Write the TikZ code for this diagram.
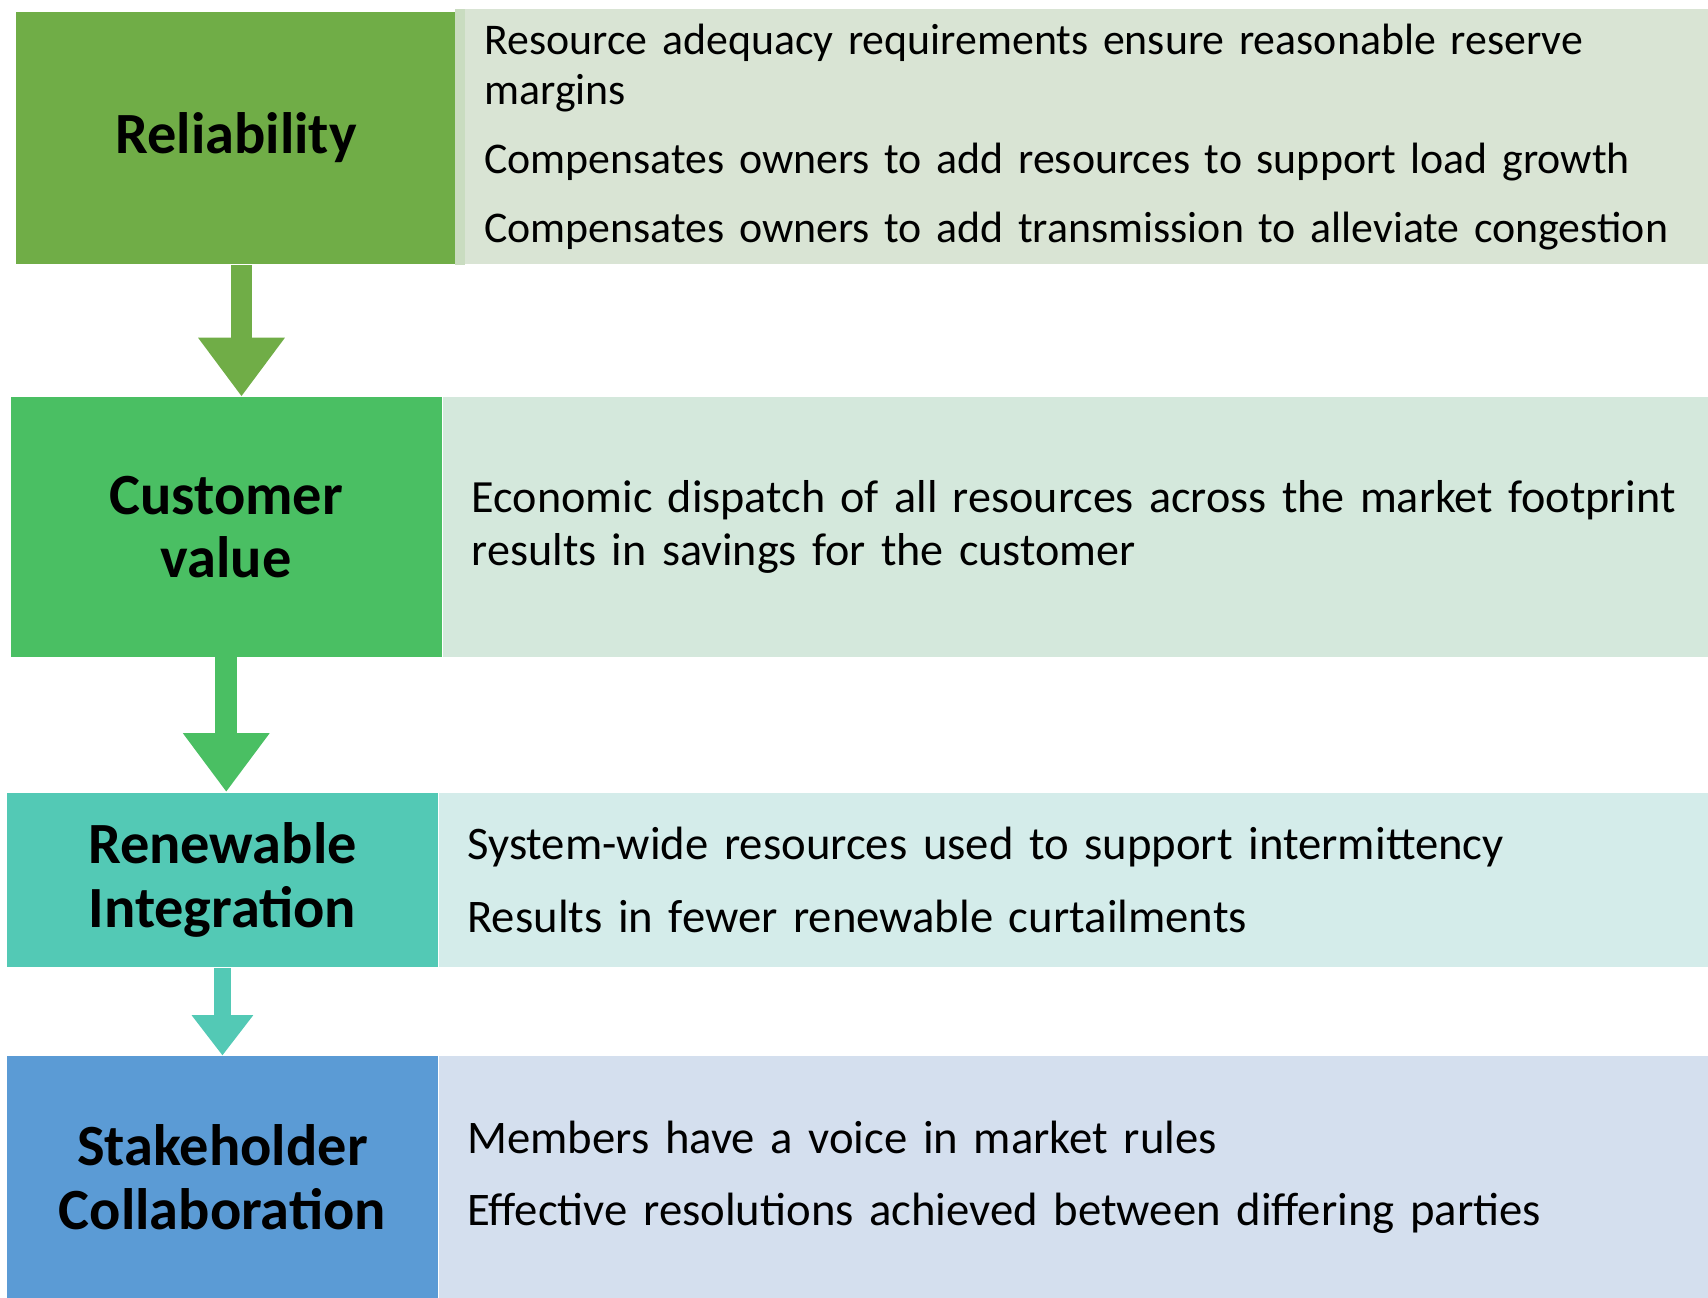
\documentclass[tikz,border=0pt]{standalone}
\usepackage{fontspec}
\setmainfont{Carlito}
\usetikzlibrary{arrows.meta,positioning}
\definecolor{relgreen}{HTML}{70AD47}
\definecolor{rellight}{HTML}{D9E4D4}
\definecolor{relstrip}{HTML}{C9DCC0}
\definecolor{custgreen}{HTML}{4ABF63}
\definecolor{custlight}{HTML}{D4E8DC}
\definecolor{renteal}{HTML}{53C9B5}
\definecolor{renlight}{HTML}{D4ECEA}
\definecolor{stakeblue}{HTML}{5B9BD5}
\definecolor{stakelight}{HTML}{D4DFEE}
\tikzset{
  head/.style={fill=#1, anchor=north west, inner sep=0pt, align=center, font=\bfseries\fontsize{15.25}{16.6}\selectfont},
  body/.style={fill=#1, anchor=north west, inner xsep=0.26cm, inner ysep=0pt, align=left, font=\fontsize{12.2}{13.6}\selectfont},
  flow/.style={draw=#1, line width=2mm, -{Triangle[width=7.6mm,length=5.4mm]}},
  thinflow/.style={draw=#1, line width=1.5mm, -{Triangle[width=5.4mm,length=3.7mm]}}
}

\begin{document}
\begin{tikzpicture}
              \useasboundingbox (0,0) rectangle (15.68,-11.91);
              \node[head=relgreen, minimum width=4.04cm, minimum height=2.32cm](rel) at (0.14,-0.10) {Reliability};
              \node[body=rellight, font=\fontsize{11.45}{13.1}\selectfont, minimum height=2.34cm, text width=11.24cm](reltxt) at (4.18,-0.08) {Resource adequacy requirements ensure reasonable reserve\\ margins\\[1.75mm] Compensates owners to add resources to support load growth\\[1.75mm] Compensates owners to add transmission to alleviate congestion};
              \fill[relstrip] (reltxt.north west) rectangle ([xshift=0.09cm]reltxt.south west);
              \node[head=custgreen, minimum width=3.96cm, minimum height=2.38cm](cust) at (0.09,-3.64) {Customer\\ value};
              \node[body=custlight, font=\fontsize{12.05}{13.7}\selectfont, minimum height=2.38cm, text width=11.37cm](custtxt) at (cust.north east) {Economic dispatch of all resources across the market footprint\\ results in savings for the customer};
              \node[head=renteal, minimum width=3.95cm, minimum height=1.60cm](ren) at (0.06,-7.27) {Renewable\\ Integration};
              \node[body=renlight, minimum height=1.60cm, text width=11.41cm](rentxt) at (ren.north east) {System-wide resources used to support intermittency\\[1.9mm] Results in fewer renewable curtailments};
              \node[head=stakeblue, minimum width=3.95cm, minimum height=2.22cm](stake) at (0.06,-9.69) {Stakeholder\\ Collaboration};
              \node[body=stakelight, minimum height=2.22cm, text width=11.41cm](staketxt) at (stake.north east) {Members have a voice in market rules\\[1.9mm] Effective resolutions achieved between differing parties};
              \coordinate (a1) at ([xshift=0.05cm]rel.south);
              \draw[flow=relgreen] (a1) -- (a1 |- cust.north);
              \draw[flow=custgreen] (cust.south) -- (cust.south |- ren.north);
              \draw[thinflow=renteal] (ren.south) -- (ren.south |- stake.north);
            \end{tikzpicture}
\end{document}
